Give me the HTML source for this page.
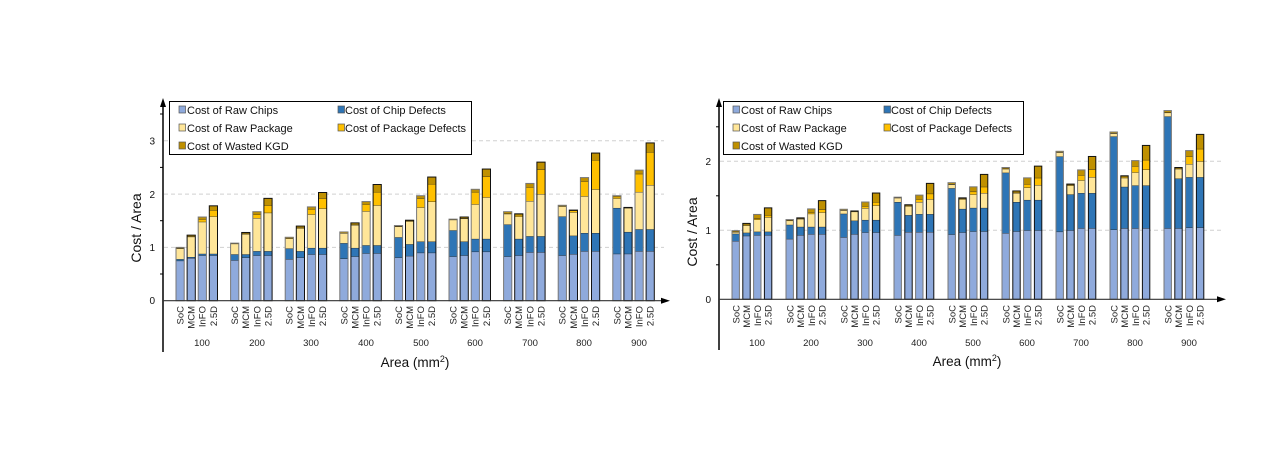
<!DOCTYPE html>
<html><head><meta charset="utf-8"><style>
html,body{margin:0;padding:0;background:#fff;}
svg{display:block;font-family:"Liberation Sans",Arial,sans-serif;}
.cat{font-size:9.5px;fill:#222;}
.grp{font-size:9.5px;fill:#222;text-anchor:middle;}
.lg{font-size:11px;fill:#111;}
.tk{font-size:10px;fill:#111;text-anchor:end;}
</style></head><body>
<svg id="s" width="1264" height="472" viewBox="0 0 1264 472" xmlns="http://www.w3.org/2000/svg">
<rect width="1264" height="472" fill="#fff"/>
<!-- LEFT CHART -->
<g stroke="#d0d0d0" stroke-dasharray="4,3" stroke-width="1">
<line x1="164" y1="247.4" x2="664" y2="247.4"/><line x1="164" y1="194.1" x2="664" y2="194.1"/><line x1="164" y1="140.8" x2="664" y2="140.8"/>
</g>
<g id="barsL"></g>
<line x1="163" y1="104" x2="163" y2="352" stroke="#000" stroke-width="1.5"/>
<polygon points="163,98 160,107 166,107" fill="#000"/>
<line x1="163" y1="300.7" x2="662" y2="300.7" stroke="#333" stroke-width="1.2"/>
<polygon points="670,300.7 661,297.7 661,303.7" fill="#000"/>
<g stroke="#000" stroke-width="1"><line x1="160" y1="274" x2="163" y2="274"/><line x1="160" y1="220.7" x2="163" y2="220.7"/><line x1="160" y1="167.4" x2="163" y2="167.4"/><line x1="160" y1="114" x2="163" y2="114"/></g>
<text class="tk" x="155" y="304">0</text><text class="tk" x="155" y="251">1</text><text class="tk" x="155" y="198">2</text><text class="tk" x="155" y="144.5">3</text>
<text x="0" y="0" font-size="14" fill="#111" text-anchor="middle" transform="translate(141,228) rotate(-90)">Cost / Area</text>
<text x="415" y="367" font-size="13.5" fill="#111" text-anchor="middle">Area (mm<tspan dy="-5" font-size="9">2</tspan><tspan dy="5">)</tspan></text>
<g class="grp"><text x="202" y="346">100</text><text x="257" y="346">200</text><text x="311" y="346">300</text><text x="366" y="346">400</text><text x="421" y="346">500</text><text x="475" y="346">600</text><text x="530" y="346">700</text><text x="584" y="346">800</text><text x="639" y="346">900</text></g>
<rect x="169.5" y="101.5" width="302" height="53" fill="#fff" stroke="#000" stroke-width="1"/>
<g stroke="#555" stroke-width="0.7">
<rect x="179" y="106" width="6.5" height="7" fill="#8faadc"/><rect x="338" y="106" width="6.5" height="7" fill="#2e75b6"/>
<rect x="179" y="124" width="6.5" height="7" fill="#ffe699"/><rect x="338" y="124" width="6.5" height="7" fill="#ffc000"/>
<rect x="179" y="142" width="6.5" height="7" fill="#bf9000"/></g>
<text class="lg" x="187" y="114">Cost of Raw Chips</text><text class="lg" x="345" y="114">Cost of Chip Defects</text>
<text class="lg" x="187" y="132">Cost of Raw Package</text><text class="lg" x="345" y="132">Cost of Package Defects</text>
<text class="lg" x="187" y="150">Cost of Wasted KGD</text>

<!-- RIGHT CHART -->
<g stroke="#d0d0d0" stroke-dasharray="4,3" stroke-width="1">
<line x1="720" y1="230.3" x2="1222" y2="230.3"/><line x1="720" y1="161.3" x2="1222" y2="161.3"/>
</g>
<g id="barsR"></g>
<line x1="719" y1="104" x2="719" y2="350" stroke="#000" stroke-width="1.5"/>
<polygon points="719,98 716,107 722,107" fill="#000"/>
<line x1="719" y1="299.3" x2="1218" y2="299.3" stroke="#333" stroke-width="1.2"/>
<polygon points="1226,299.3 1217,296.3 1217,302.3" fill="#000"/>
<g stroke="#000" stroke-width="1"><line x1="716" y1="264.8" x2="719" y2="264.8"/><line x1="716" y1="195.8" x2="719" y2="195.8"/><line x1="716" y1="126.8" x2="719" y2="126.8"/></g>
<text class="tk" x="711" y="303">0</text><text class="tk" x="711" y="234">1</text><text class="tk" x="711" y="165">2</text>
<text x="0" y="0" font-size="14" fill="#111" text-anchor="middle" transform="translate(697,232) rotate(-90)">Cost / Area</text>
<text x="967" y="366" font-size="13.5" fill="#111" text-anchor="middle">Area (mm<tspan dy="-5" font-size="9">2</tspan><tspan dy="5">)</tspan></text>
<g class="grp"><text x="757" y="346">100</text><text x="811" y="346">200</text><text x="865" y="346">300</text><text x="919" y="346">400</text><text x="973" y="346">500</text><text x="1027" y="346">600</text><text x="1081" y="346">700</text><text x="1135" y="346">800</text><text x="1189" y="346">900</text></g>
<rect x="723.5" y="101.5" width="300" height="53" fill="#fff" stroke="#000" stroke-width="1"/>
<g stroke="#555" stroke-width="0.7">
<rect x="733" y="106" width="6.5" height="7" fill="#8faadc"/><rect x="884" y="106" width="6.5" height="7" fill="#2e75b6"/>
<rect x="733" y="124" width="6.5" height="7" fill="#ffe699"/><rect x="884" y="124" width="6.5" height="7" fill="#ffc000"/>
<rect x="733" y="142" width="6.5" height="7" fill="#bf9000"/></g>
<text class="lg" x="741" y="114">Cost of Raw Chips</text><text class="lg" x="891" y="114">Cost of Chip Defects</text>
<text class="lg" x="741" y="132">Cost of Raw Package</text><text class="lg" x="891" y="132">Cost of Package Defects</text>
<text class="lg" x="741" y="150">Cost of Wasted KGD</text>

<!-- category labels (static) -->
<g class="cat">
<g transform="translate(176,0)"><text transform="translate(7.5,306) rotate(-90)" text-anchor="end">SoC</text><text transform="translate(18.6,306) rotate(-90)" text-anchor="end">MCM</text><text transform="translate(29.7,306) rotate(-90)" text-anchor="end">InFO</text><text transform="translate(40.8,306) rotate(-90)" text-anchor="end">2.5D</text></g>
<g transform="translate(230.6,0)"><text transform="translate(7.5,306) rotate(-90)" text-anchor="end">SoC</text><text transform="translate(18.6,306) rotate(-90)" text-anchor="end">MCM</text><text transform="translate(29.7,306) rotate(-90)" text-anchor="end">InFO</text><text transform="translate(40.8,306) rotate(-90)" text-anchor="end">2.5D</text></g>
<g transform="translate(285.2,0)"><text transform="translate(7.5,306) rotate(-90)" text-anchor="end">SoC</text><text transform="translate(18.6,306) rotate(-90)" text-anchor="end">MCM</text><text transform="translate(29.7,306) rotate(-90)" text-anchor="end">InFO</text><text transform="translate(40.8,306) rotate(-90)" text-anchor="end">2.5D</text></g>
<g transform="translate(339.8,0)"><text transform="translate(7.5,306) rotate(-90)" text-anchor="end">SoC</text><text transform="translate(18.6,306) rotate(-90)" text-anchor="end">MCM</text><text transform="translate(29.7,306) rotate(-90)" text-anchor="end">InFO</text><text transform="translate(40.8,306) rotate(-90)" text-anchor="end">2.5D</text></g>
<g transform="translate(394.4,0)"><text transform="translate(7.5,306) rotate(-90)" text-anchor="end">SoC</text><text transform="translate(18.6,306) rotate(-90)" text-anchor="end">MCM</text><text transform="translate(29.7,306) rotate(-90)" text-anchor="end">InFO</text><text transform="translate(40.8,306) rotate(-90)" text-anchor="end">2.5D</text></g>
<g transform="translate(449,0)"><text transform="translate(7.5,306) rotate(-90)" text-anchor="end">SoC</text><text transform="translate(18.6,306) rotate(-90)" text-anchor="end">MCM</text><text transform="translate(29.7,306) rotate(-90)" text-anchor="end">InFO</text><text transform="translate(40.8,306) rotate(-90)" text-anchor="end">2.5D</text></g>
<g transform="translate(503.6,0)"><text transform="translate(7.5,306) rotate(-90)" text-anchor="end">SoC</text><text transform="translate(18.6,306) rotate(-90)" text-anchor="end">MCM</text><text transform="translate(29.7,306) rotate(-90)" text-anchor="end">InFO</text><text transform="translate(40.8,306) rotate(-90)" text-anchor="end">2.5D</text></g>
<g transform="translate(558.2,0)"><text transform="translate(7.5,306) rotate(-90)" text-anchor="end">SoC</text><text transform="translate(18.6,306) rotate(-90)" text-anchor="end">MCM</text><text transform="translate(29.7,306) rotate(-90)" text-anchor="end">InFO</text><text transform="translate(40.8,306) rotate(-90)" text-anchor="end">2.5D</text></g>
<g transform="translate(612.8,0)"><text transform="translate(7.5,306) rotate(-90)" text-anchor="end">SoC</text><text transform="translate(18.6,306) rotate(-90)" text-anchor="end">MCM</text><text transform="translate(29.7,306) rotate(-90)" text-anchor="end">InFO</text><text transform="translate(40.8,306) rotate(-90)" text-anchor="end">2.5D</text></g>

<g transform="translate(732,0)"><text transform="translate(7.3,305) rotate(-90)" text-anchor="end">SoC</text><text transform="translate(18.1,305) rotate(-90)" text-anchor="end">MCM</text><text transform="translate(28.9,305) rotate(-90)" text-anchor="end">InFO</text><text transform="translate(39.7,305) rotate(-90)" text-anchor="end">2.5D</text></g>
<g transform="translate(786,0)"><text transform="translate(7.3,305) rotate(-90)" text-anchor="end">SoC</text><text transform="translate(18.1,305) rotate(-90)" text-anchor="end">MCM</text><text transform="translate(28.9,305) rotate(-90)" text-anchor="end">InFO</text><text transform="translate(39.7,305) rotate(-90)" text-anchor="end">2.5D</text></g>
<g transform="translate(840,0)"><text transform="translate(7.3,305) rotate(-90)" text-anchor="end">SoC</text><text transform="translate(18.1,305) rotate(-90)" text-anchor="end">MCM</text><text transform="translate(28.9,305) rotate(-90)" text-anchor="end">InFO</text><text transform="translate(39.7,305) rotate(-90)" text-anchor="end">2.5D</text></g>
<g transform="translate(894,0)"><text transform="translate(7.3,305) rotate(-90)" text-anchor="end">SoC</text><text transform="translate(18.1,305) rotate(-90)" text-anchor="end">MCM</text><text transform="translate(28.9,305) rotate(-90)" text-anchor="end">InFO</text><text transform="translate(39.7,305) rotate(-90)" text-anchor="end">2.5D</text></g>
<g transform="translate(948,0)"><text transform="translate(7.3,305) rotate(-90)" text-anchor="end">SoC</text><text transform="translate(18.1,305) rotate(-90)" text-anchor="end">MCM</text><text transform="translate(28.9,305) rotate(-90)" text-anchor="end">InFO</text><text transform="translate(39.7,305) rotate(-90)" text-anchor="end">2.5D</text></g>
<g transform="translate(1002,0)"><text transform="translate(7.3,305) rotate(-90)" text-anchor="end">SoC</text><text transform="translate(18.1,305) rotate(-90)" text-anchor="end">MCM</text><text transform="translate(28.9,305) rotate(-90)" text-anchor="end">InFO</text><text transform="translate(39.7,305) rotate(-90)" text-anchor="end">2.5D</text></g>
<g transform="translate(1056,0)"><text transform="translate(7.3,305) rotate(-90)" text-anchor="end">SoC</text><text transform="translate(18.1,305) rotate(-90)" text-anchor="end">MCM</text><text transform="translate(28.9,305) rotate(-90)" text-anchor="end">InFO</text><text transform="translate(39.7,305) rotate(-90)" text-anchor="end">2.5D</text></g>
<g transform="translate(1110,0)"><text transform="translate(7.3,305) rotate(-90)" text-anchor="end">SoC</text><text transform="translate(18.1,305) rotate(-90)" text-anchor="end">MCM</text><text transform="translate(28.9,305) rotate(-90)" text-anchor="end">InFO</text><text transform="translate(39.7,305) rotate(-90)" text-anchor="end">2.5D</text></g>
<g transform="translate(1164,0)"><text transform="translate(7.3,305) rotate(-90)" text-anchor="end">SoC</text><text transform="translate(18.1,305) rotate(-90)" text-anchor="end">MCM</text><text transform="translate(28.9,305) rotate(-90)" text-anchor="end">InFO</text><text transform="translate(39.7,305) rotate(-90)" text-anchor="end">2.5D</text></g>
</g>
</svg>
<script>
var C=["#8faadc","#2e75b6","#ffe699","#ffc000","#bf9000"];
var L=[
[[.75,.78,.98,.99,1.0],[.80,.82,1.20,1.21,1.23],[.85,.88,1.48,1.53,1.57],[.85,.88,1.58,1.70,1.78]],
[[.76,.87,1.07,1.07,1.08],[.81,.87,1.25,1.26,1.28],[.85,.93,1.55,1.62,1.67],[.85,.93,1.65,1.79,1.92]],
[[.78,.98,1.17,1.17,1.19],[.81,.93,1.36,1.37,1.40],[.87,.99,1.62,1.72,1.76],[.87,.99,1.73,1.92,2.03]],
[[.79,1.08,1.27,1.27,1.29],[.83,.99,1.42,1.43,1.46],[.89,1.04,1.68,1.81,1.86],[.89,1.04,1.79,2.04,2.18]],
[[.81,1.19,1.39,1.40,1.41],[.84,1.06,1.49,1.50,1.51],[.90,1.11,1.75,1.92,1.97],[.90,1.11,1.86,2.19,2.32]],
[[.83,1.32,1.52,1.52,1.53],[.85,1.11,1.54,1.55,1.57],[.92,1.16,1.81,2.04,2.09],[.92,1.16,1.94,2.33,2.47]],
[[.83,1.43,1.63,1.64,1.67],[.85,1.16,1.58,1.61,1.63],[.91,1.21,1.87,2.13,2.20],[.91,1.21,2.0,2.46,2.60]],
[[.85,1.58,1.77,1.78,1.79],[.875,1.22,1.66,1.69,1.70],[.93,1.27,1.96,2.24,2.31],[.93,1.27,2.09,2.64,2.77]],
[[.88,1.74,1.92,1.95,1.97],[.88,1.29,1.74,1.745,1.75],[.93,1.34,2.04,2.38,2.45],[.93,1.34,2.17,2.79,2.96]]];
var R=[
[[.845,.95,.975,.98,.995],[.92,.965,1.07,1.08,1.10],[.93,.98,1.155,1.17,1.23],[.93,.98,1.19,1.22,1.325]],
[[.875,1.08,1.14,1.145,1.155],[.93,1.05,1.165,1.17,1.18],[.945,1.05,1.24,1.26,1.31],[.945,1.05,1.26,1.30,1.43]],
[[.90,1.24,1.29,1.295,1.305],[.945,1.14,1.27,1.275,1.28],[.97,1.15,1.32,1.35,1.41],[.97,1.15,1.36,1.41,1.54]],
[[.93,1.41,1.47,1.475,1.48],[.975,1.22,1.35,1.36,1.37],[.975,1.235,1.41,1.45,1.51],[.975,1.235,1.45,1.53,1.68]],
[[.94,1.61,1.665,1.67,1.69],[.97,1.31,1.45,1.46,1.47],[.985,1.325,1.52,1.56,1.63],[.985,1.325,1.54,1.63,1.81]],
[[.96,1.835,1.89,1.895,1.91],[.985,1.41,1.54,1.55,1.57],[1.0,1.44,1.62,1.67,1.76],[1.0,1.44,1.655,1.76,1.93]],
[[.98,2.07,2.13,2.135,2.145],[1.0,1.52,1.65,1.66,1.67],[1.03,1.54,1.725,1.80,1.875],[1.03,1.54,1.77,1.88,2.07]],
[[1.01,2.36,2.405,2.41,2.425],[1.03,1.63,1.76,1.775,1.79],[1.03,1.65,1.84,1.93,2.01],[1.03,1.65,1.88,2.02,2.23]],
[[1.03,2.65,2.705,2.71,2.735],[1.03,1.75,1.89,1.90,1.91],[1.04,1.77,1.96,2.07,2.155],[1.04,1.77,2.0,2.18,2.39]]];
function draw(id,D,x0,gp,bp,bw,y0,sc){
 var g=document.getElementById(id),h="";
 D.forEach(function(grp,i){grp.forEach(function(b,j){
  var x=x0+gp*i+bp*j,prev=0;
  b.forEach(function(v,k){var ya=y0-v*sc,yb=y0-prev*sc;
   if(v>prev)h+='<rect x="'+x+'" y="'+ya+'" width="'+bw+'" height="'+(yb-ya)+'" fill="'+C[k]+'"/>';
   if(k<4)h+='<line x1="'+x+'" x2="'+(x+bw)+'" y1="'+ya+'" y2="'+ya+'" stroke="#222" stroke-width="0.8"/>';
   prev=v;});
  var top=y0-b[4]*sc;
  h+='<rect x="'+x+'" y="'+top+'" width="'+bw+'" height="'+(y0-top)+'" fill="none" stroke="'+(j%2?'#111':'#777')+'" stroke-width="1"/>';
 });});
 g.innerHTML=h;
}
draw("barsL",L,176,54.6,11.1,8.2,300.7,53.3);
draw("barsR",R,732,54,10.8,7.4,299.3,69);
</script>
</body></html>
